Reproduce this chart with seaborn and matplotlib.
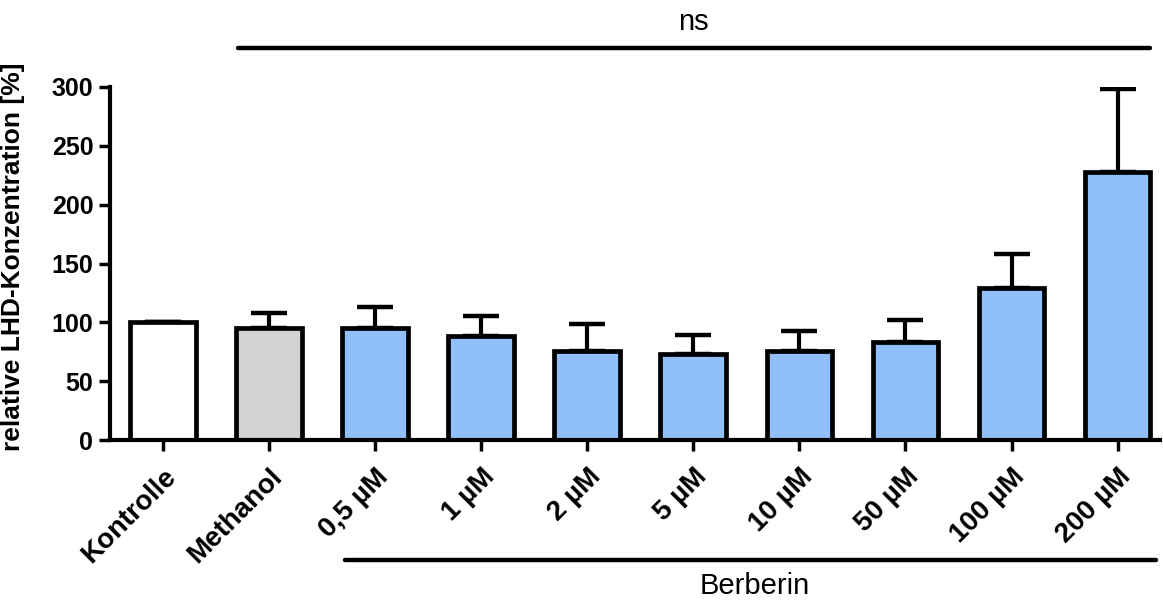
import numpy as np
import pandas as pd
import matplotlib
matplotlib.use("Agg")
import matplotlib.pyplot as plt
import seaborn as sns

# Data
categories = ["Kontrolle", "Methanol", "0,5 µM", "1 µM", "2 µM", "5 µM",
              "10 µM", "50 µM", "100 µM", "200 µM"]
means = [100, 95, 95, 88, 76, 73, 76, 83, 129, 228]
sd_upper = [0, 13, 18, 17, 23, 16.5, 16.5, 19, 29, 70]
bar_colors = ["#ffffff", "#d3d3d3"] + ["#90bff9"] * 8
y_ticks = [0, 50, 100, 150, 200, 250, 300]

sns.set_theme(style="ticks")
plt.rcParams["font.family"] = ["Liberation Sans", "DejaVu Sans"]
plt.rcParams["text.color"] = "black"

W, H = 1163, 601
fig = plt.figure(figsize=(W / 100, H / 100), dpi=100)
left_px, right_px, top_px, bottom_px = 110, 1160, 87, 440
ax = fig.add_axes([left_px / W, 1 - bottom_px / H,
                   (right_px - left_px) / W, (bottom_px - top_px) / H])

df = pd.DataFrame({"group": categories, "value": means})
sns.barplot(data=df, x="group", y="value", hue="group", palette=bar_colors,
            legend=False, width=0.62, edgecolor="black", linewidth=3.4,
            saturation=1, errorbar=None, ax=ax, zorder=2)

x = np.arange(len(categories))
ax.errorbar(x, means, yerr=[np.zeros(len(means)), sd_upper], fmt="none",
            ecolor="black", elinewidth=3, capsize=13, capthick=3.2, zorder=1)

ax.set_xlim(-0.5, 9.4)
ax.set_ylim(0, 300)
ax.set_yticks(y_ticks)
ax.set_xticks(x)
ax.set_xticklabels(categories, rotation=45, ha="right", va="top",
                   rotation_mode="anchor", fontsize=20, fontweight="bold",
                   color="black")
for lab in ax.get_yticklabels():
    lab.set_fontsize(18)
    lab.set_fontweight("bold")
    lab.set_color("black")

for side in ["top", "right"]:
    ax.spines[side].set_visible(False)
for side in ["left", "bottom"]:
    ax.spines[side].set_linewidth(3)
    ax.spines[side].set_color("black")
ax.tick_params(axis="y", length=8, width=2.5, pad=4, colors="black")
ax.tick_params(axis="x", length=8, width=2.5, pad=9, colors="black")

ax.set_xlabel("")
ax.set_ylabel("relative LHD-Konzentration [%]", fontsize=19,
              fontweight="bold", color="black")
ax.yaxis.set_label_coords(-0.081, 0.52)

# Significance bar over the treated groups
ax.plot([0.71, 9.31], [333, 333], color="black", lw=3.2, clip_on=False,
        solid_capstyle="round")
ax.text(5.0, 343, "ns", ha="center", va="bottom", fontsize=21)

# Group bracket for the Berberin concentrations
ax.plot([1.72, 9.36], [-102, -102], color="black", lw=3.2, clip_on=False,
        solid_capstyle="round")
ax.text(5.58, -112, "Berberin", ha="center", va="top", fontsize=21)

fig.savefig("out.png", dpi=100)
